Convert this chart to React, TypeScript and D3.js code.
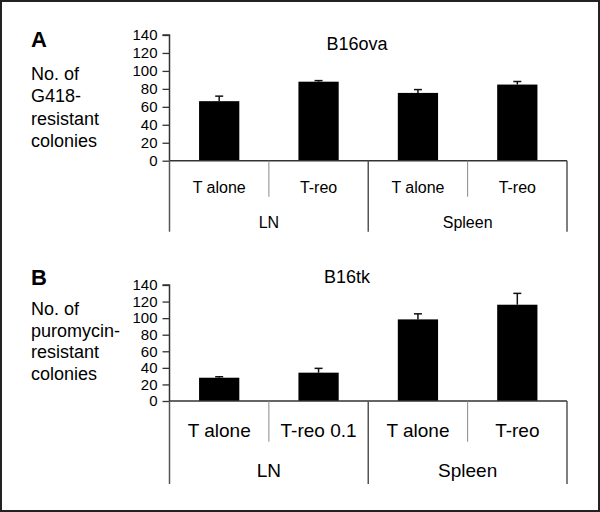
import { useRef, useEffect } from 'react';
import * as d3 from 'd3';

// data
const GROUPS = ['LN', 'Spleen'];
const Y_TICKS = [0, 20, 40, 60, 80, 100, 120, 140];

const CATEGORIES_A = ['T alone', 'T-reo', 'T alone', 'T-reo'];
const VALUES_A = [66.3, 88, 75.5, 84.8];
const ERRORS_A = [5.6, 1.2, 3.7, 3.4];
const Y_LABEL_A = ['No. of', 'G418-', 'resistant', 'colonies'];

const CATEGORIES_B = ['T alone', 'T-reo 0.1', 'T alone', 'T-reo'];
const VALUES_B = [28.1, 34.2, 98.5, 116.2];
const ERRORS_B = [1.2, 5.2, 6.7, 13.7];
const Y_LABEL_B = ['No. of', 'puromycin-', 'resistant', 'colonies'];

const WIDTH = 600;
const HEIGHT = 512;
const X0 = 169.5;
const X1 = 567;
const FONT = '"Liberation Sans", Arial, Helvetica, sans-serif';

interface PanelSpec {
  letter: string;
  title: string;
  categories: string[];
  values: number[];
  errors: number[];
  yLabel: string[];
  top: number;
  bottom: number;
  innerSepEnd: number;
  outerSepEnd: number;
  catBaseline: number;
  groupBaseline: number;
  catFont: number;
  titleX: number;
  titleY: number;
  letterY: number;
  yLabelFirst: number;
  yLabelStep: number;
}

const PANELS: PanelSpec[] = [
  {
    letter: 'A',
    title: 'B16ova',
    categories: CATEGORIES_A,
    values: VALUES_A,
    errors: ERRORS_A,
    yLabel: Y_LABEL_A,
    top: 35,
    bottom: 160.7,
    innerSepEnd: 196.7,
    outerSepEnd: 231.7,
    catBaseline: 193.3,
    groupBaseline: 228.3,
    catFont: 16,
    titleX: 357,
    titleY: 50,
    letterY: 46.7,
    yLabelFirst: 80,
    yLabelStep: 22.3,
  },
  {
    letter: 'B',
    title: 'B16tk',
    categories: CATEGORIES_B,
    values: VALUES_B,
    errors: ERRORS_B,
    yLabel: Y_LABEL_B,
    top: 285,
    bottom: 401,
    innerSepEnd: 441.7,
    outerSepEnd: 484,
    catBaseline: 436.5,
    groupBaseline: 476.5,
    catFont: 19,
    titleX: 347,
    titleY: 283,
    letterY: 285,
    yLabelFirst: 315,
    yLabelStep: 21.7,
  },
];

function drawPanel(svg: d3.Selection<SVGSVGElement, unknown, null, undefined>, p: PanelSpec) {
  const g = svg.append('g').attr('font-family', FONT);

  const y = d3.scaleLinear().domain([0, 140]).range([p.bottom, p.top]);
  const x = d3
    .scaleBand<number>()
    .domain(p.categories.map((_, i) => i))
    .range([X0, X1])
    .padding(0);
  const groupX = d3.scaleBand().domain(GROUPS).range([X0, X1]).padding(0);
  const barW = x.bandwidth() * 0.405;

  // panel letter + title
  g.append('text')
    .attr('x', 31)
    .attr('y', p.letterY)
    .attr('font-size', 22)
    .attr('font-weight', 'bold')
    .attr('fill', '#000')
    .text(p.letter);
  g.append('text')
    .attr('x', p.titleX)
    .attr('y', p.titleY)
    .attr('text-anchor', 'middle')
    .attr('font-size', 18)
    .attr('fill', '#000')
    .text(p.title);

  // y label, one line per entry
  g.selectAll('text.ylab')
    .data(p.yLabel)
    .join('text')
    .attr('class', 'ylab')
    .attr('x', 31)
    .attr('y', (_, i) => p.yLabelFirst + i * p.yLabelStep)
    .attr('font-size', 18)
    .attr('fill', '#000')
    .text((d) => d);

  // y axis
  const yAxis = g
    .append('g')
    .attr('transform', `translate(${X0},0)`)
    .call(d3.axisLeft(y).tickValues(Y_TICKS).tickSize(7).tickPadding(5));
  yAxis.select('.domain').attr('stroke', '#333').attr('stroke-width', 1.5).attr('d', `M-7,${p.top}H0V${p.bottom}`);
  yAxis.selectAll('.tick line').attr('stroke', '#333').attr('stroke-width', 1.3);
  yAxis
    .selectAll('.tick text')
    .attr('font-family', FONT)
    .attr('font-size', 15)
    .attr('fill', '#000');

  // bars
  g.selectAll('rect.bar')
    .data(p.values)
    .join('rect')
    .attr('class', 'bar')
    .attr('x', (_, i) => x(i)! + x.bandwidth() / 2 - barW / 2)
    .attr('y', (d) => y(d))
    .attr('width', barW)
    .attr('height', (d) => p.bottom - y(d))
    .attr('fill', '#000');

  // error bars (upper only)
  const err = g
    .selectAll('g.err')
    .data(p.values)
    .join('g')
    .attr('class', 'err')
    .attr('stroke', '#111')
    .attr('stroke-width', 1.5);
  err
    .append('line')
    .attr('x1', (_, i) => x(i)! + x.bandwidth() / 2)
    .attr('x2', (_, i) => x(i)! + x.bandwidth() / 2)
    .attr('y1', (d) => y(d))
    .attr('y2', (d, i) => y(d + p.errors[i]));
  err
    .append('line')
    .attr('x1', (_, i) => x(i)! + x.bandwidth() / 2 - 4)
    .attr('x2', (_, i) => x(i)! + x.bandwidth() / 2 + 4)
    .attr('y1', (d, i) => y(d + p.errors[i]))
    .attr('y2', (d, i) => y(d + p.errors[i]));

  // x axis baseline
  g.append('line')
    .attr('x1', X0)
    .attr('x2', X1)
    .attr('y1', p.bottom)
    .attr('y2', p.bottom)
    .attr('stroke', '#333')
    .attr('stroke-width', 1.5);

  // inner separators between categories inside each group
  g.selectAll('line.inner')
    .data(p.categories.filter((_, i) => i % 2 === 1))
    .join('line')
    .attr('class', 'inner')
    .attr('x1', (_, j) => x(j * 2 + 1)!)
    .attr('x2', (_, j) => x(j * 2 + 1)!)
    .attr('y1', p.bottom)
    .attr('y2', p.innerSepEnd)
    .attr('stroke', '#888')
    .attr('stroke-width', 1);

  // outer separators around groups
  const outerXs = [...GROUPS.map((gname) => groupX(gname)!), X1];
  g.selectAll('line.outer')
    .data(outerXs)
    .join('line')
    .attr('class', 'outer')
    .attr('x1', (d) => d)
    .attr('x2', (d) => d)
    .attr('y1', p.bottom)
    .attr('y2', p.outerSepEnd)
    .attr('stroke', '#555')
    .attr('stroke-width', 1.5);

  // category labels
  g.selectAll('text.cat')
    .data(p.categories)
    .join('text')
    .attr('class', 'cat')
    .attr('x', (_, i) => x(i)! + x.bandwidth() / 2)
    .attr('y', p.catBaseline)
    .attr('text-anchor', 'middle')
    .attr('font-size', p.catFont)
    .attr('fill', '#000')
    .text((d) => d);

  // group labels
  g.selectAll('text.grp')
    .data(GROUPS)
    .join('text')
    .attr('class', 'grp')
    .attr('x', (d) => groupX(d)! + groupX.bandwidth() / 2)
    .attr('y', p.groupBaseline)
    .attr('text-anchor', 'middle')
    .attr('font-size', p.catFont)
    .attr('fill', '#000')
    .text((d) => d);
}

export default function App() {
  const svgRef = useRef<SVGSVGElement>(null);

  useEffect(() => {
    if (!svgRef.current) return;
    const svg = d3.select(svgRef.current);
    svg.selectAll('*').remove();

    svg
      .append('rect')
      .attr('width', WIDTH)
      .attr('height', HEIGHT)
      .attr('fill', '#fff');
    // outer frame
    svg
      .append('rect')
      .attr('x', 1)
      .attr('y', 1)
      .attr('width', WIDTH - 2)
      .attr('height', HEIGHT - 2)
      .attr('fill', 'none')
      .attr('stroke', '#222')
      .attr('stroke-width', 2);

    PANELS.forEach((p) => drawPanel(svg, p));
  }, []);

  return (
    <svg
      ref={svgRef}
      width={WIDTH}
      height={HEIGHT}
      viewBox={`0 0 ${WIDTH} ${HEIGHT}`}
      style={{ position: 'absolute', left: 0, top: 0, display: 'block' }}
    />
  );
}
